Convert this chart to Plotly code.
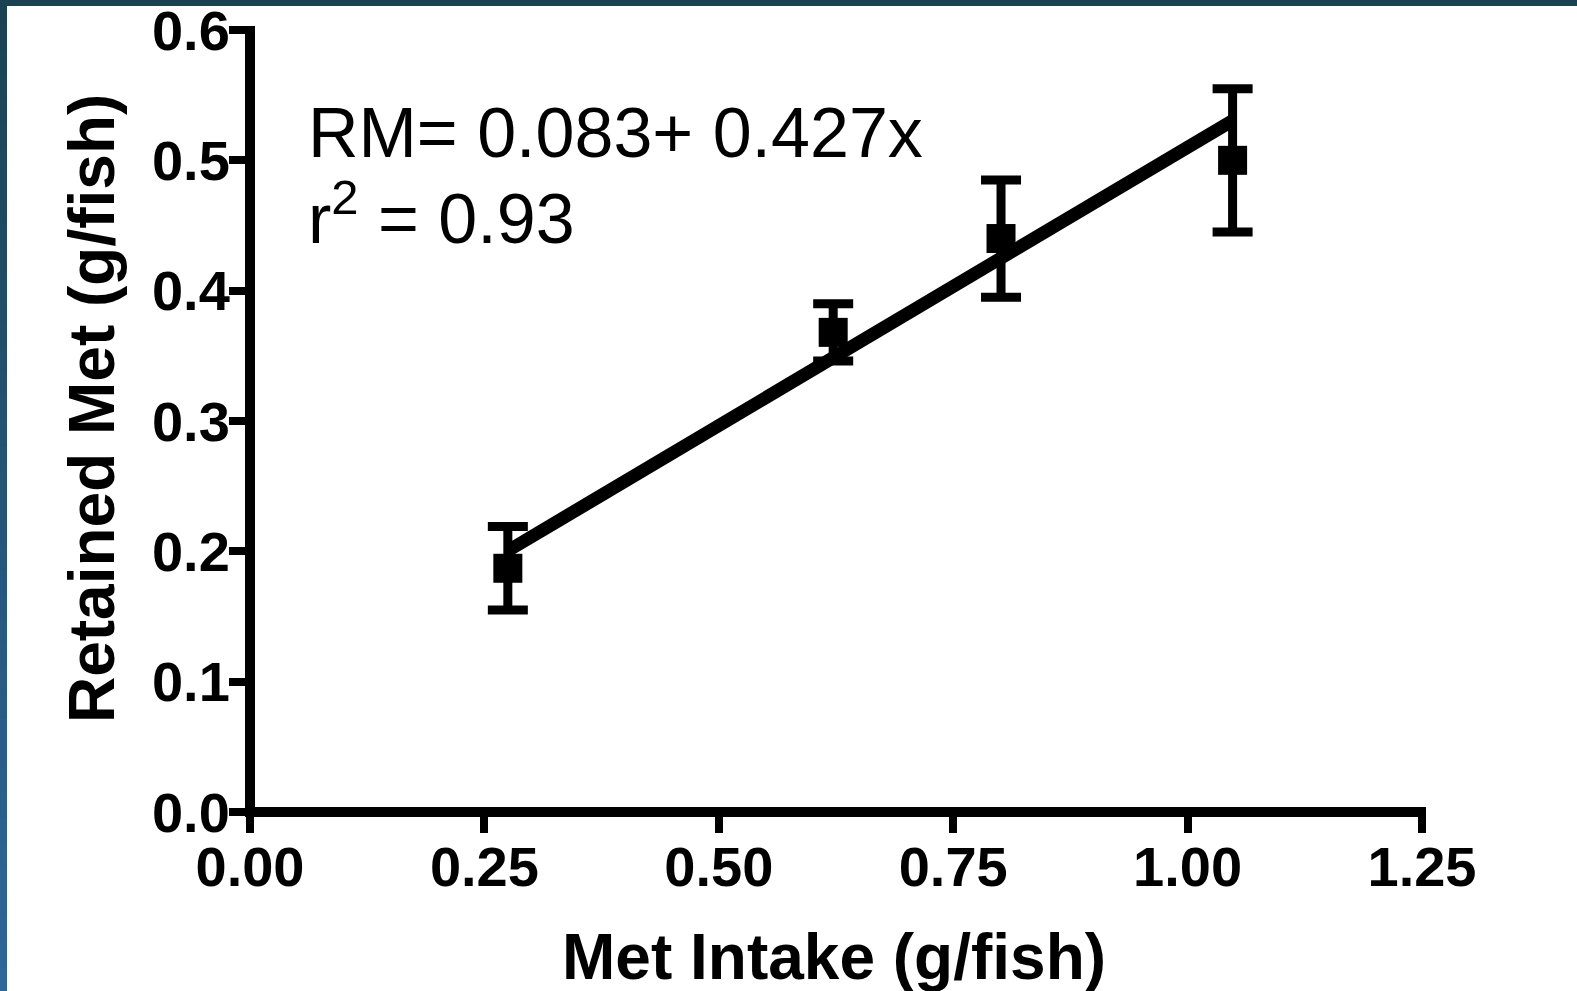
import plotly.graph_objects as go

# Methionine intake vs. retained methionine (mean ± SE)
met_intake = [0.275, 0.622, 0.801, 1.048]
retained_met = [0.187, 0.368, 0.440, 0.500]
retained_err = [0.032, 0.022, 0.045, 0.055]

# Linear regression: RM = a + b * x
intercept = 0.083
slope = 0.427
r_squared = 0.93

x_ticks = [0.0, 0.25, 0.5, 0.75, 1.0, 1.25]
x_tick_labels = ["0.00", "0.25", "0.50", "0.75", "1.00", "1.25"]
y_ticks = [0.0, 0.1, 0.2, 0.3, 0.4, 0.5, 0.6]
y_tick_labels = ["0.0", "0.1", "0.2", "0.3", "0.4", "0.5", "0.6"]

W, H = 1577, 991
ML, MR, MT, MB = 250, 155, 30, 179
PW, PH = W - ML - MR, H - MT - MB

FONT = "Liberation Sans, Arial, sans-serif"
AXIS_W = 10

fit_x = [min(met_intake), max(met_intake)]
fit_y = [intercept + slope * v for v in fit_x]

fig = go.Figure()

fig.add_trace(go.Scatter(
    x=fit_x, y=fit_y, mode="lines",
    line=dict(color="black", width=13),
    showlegend=False, hoverinfo="skip", cliponaxis=False,
))

fig.add_trace(go.Scatter(
    x=met_intake, y=retained_met, mode="markers",
    marker=dict(symbol="square", size=29, color="black"),
    error_y=dict(type="data", array=retained_err, visible=True,
                 color="black", thickness=9, width=20),
    showlegend=False, hoverinfo="skip", cliponaxis=False,
))


def px_x(p):
    return (p - ML) / PW


def px_y(p):
    return (H - MB - p) / PH


shapes = []

# Axis lines, centred on the zero lines of each axis
shapes.append(dict(type="line", xref="paper", yref="paper",
                   x0=px_x(ML - AXIS_W / 2), x1=px_x(ML + PW + 4), y0=0, y1=0,
                   line=dict(color="black", width=AXIS_W), layer="above"))
shapes.append(dict(type="line", xref="paper", yref="paper",
                   x0=0, x1=0, y0=px_y(H - MB + AXIS_W / 2), y1=px_y(MT - 4),
                   line=dict(color="black", width=AXIS_W), layer="above"))

# Slide frame: dark band on top, gradient band on the left
shapes.append(dict(type="rect", xref="paper", yref="paper",
                   x0=px_x(-2), x1=px_x(W + 2), y0=px_y(6), y1=px_y(-2),
                   fillcolor="#1b4253", line=dict(width=0), layer="above"))
n_seg = 40
c0 = (0x1b, 0x42, 0x53)
c1 = (0x2f, 0x66, 0x99)
for i in range(n_seg):
    t = i / (n_seg - 1)
    col = "rgb({},{},{})".format(*[round(a + (b - a) * t) for a, b in zip(c0, c1)])
    y_top = H * i / n_seg
    y_bot = H * (i + 1) / n_seg + 1
    shapes.append(dict(type="rect", xref="paper", yref="paper",
                       x0=px_x(-2), x1=px_x(7), y0=px_y(y_bot), y1=px_y(y_top),
                       fillcolor=col, line=dict(width=0), layer="above"))

annotations = [
    dict(text="RM= 0.083+ 0.427x", xref="paper", yref="paper",
         x=px_x(306), y=px_y(133), xanchor="left", yanchor="middle",
         showarrow=False, font=dict(family=FONT, size=70, color="black")),
    dict(text="r<sup>2</sup> = 0.93", xref="paper", yref="paper",
         x=px_x(306), y=px_y(214), xanchor="left", yanchor="middle",
         showarrow=False, font=dict(family=FONT, size=70, color="black")),
    dict(text="Met Intake (g/fish)", xref="paper", yref="paper",
         x=px_x(834), y=px_y(957), xanchor="center", yanchor="middle",
         showarrow=False,
         font=dict(family=FONT, size=64, color="black", weight="bold")),
    dict(text="Retained Met (g/fish)", xref="paper", yref="paper",
         x=px_x(92), y=px_y(409), xanchor="center", yanchor="middle",
         textangle=-90, showarrow=False,
         font=dict(family=FONT, size=64, color="black", weight="bold")),
]

tick_font = dict(family=FONT, size=56, color="black", weight="bold")

fig.update_layout(
    width=W, height=H,
    margin=dict(l=ML, r=MR, t=MT, b=MB, autoexpand=False),
    paper_bgcolor="white", plot_bgcolor="white",
    shapes=shapes, annotations=annotations,
    xaxis=dict(range=[0, 1.25], tickvals=x_ticks, ticktext=x_tick_labels,
               showgrid=False, zeroline=False, showline=False, automargin=False,
               ticks="outside", ticklen=20, tickwidth=8, tickcolor="black",
               ticklabeloverflow="allow", ticklabelstandoff=-14,
               tickfont=tick_font),
    yaxis=dict(range=[0, 0.6], tickvals=y_ticks, ticktext=y_tick_labels,
               showgrid=False, zeroline=False, showline=False, automargin=False,
               ticks="outside", ticklen=20, tickwidth=8, tickcolor="black",
               ticklabeloverflow="allow", ticklabelstandoff=-12,
               tickfont=tick_font),
)

fig.write_html("out.html")
